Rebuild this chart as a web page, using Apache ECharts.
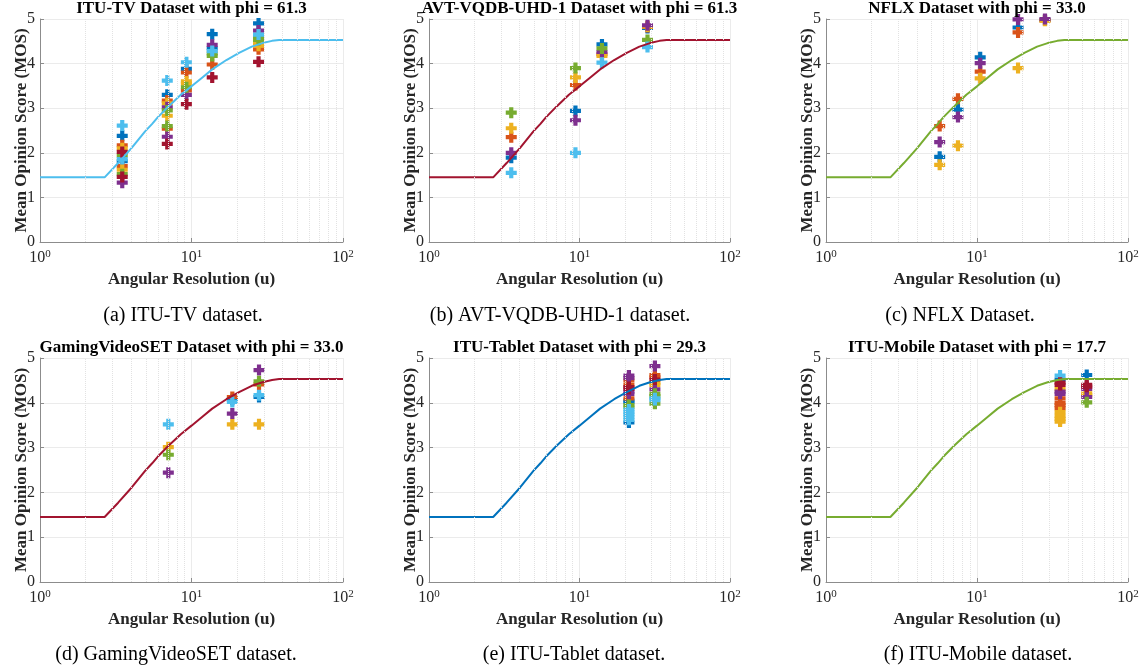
<!DOCTYPE html>
<html>
<head>
<meta charset="utf-8">
<script src="https://cdn.jsdelivr.net/npm/echarts@6/dist/echarts.min.js"></script>
<style>
  html, body { margin: 0; padding: 0; background: #fff; }
  #chart { width: 1143px; height: 672px; }
</style>
</head>
<body>
<div id="chart"></div>
<script>
// fitted MOS curve (same in every panel)
const fitU   = [1, 2.67, 3.28, 4.03, 4.94, 5.5, 6.0, 7.05, 8.5, 10, 11.8, 13.7, 17, 20.6, 25, 29.4, 34, 37.9, 100]
const fitMos = [1.45, 1.45, 1.77, 2.11, 2.48, 2.65, 2.80, 3.04, 3.30, 3.49, 3.69, 3.87, 4.08, 4.24, 4.38, 4.46, 4.51, 4.53, 4.53]

// minor log grid positions
const minorTicks = [2, 3, 4, 5, 6, 7, 8, 9, 20, 30, 40, 50, 60, 70, 80, 90]

// points: [u, MOS, source index]
const ituTv = [
  [3.49, 2.61, 5], [3.49, 2.38, 0], [3.49, 2.17, 1], [3.49, 2.10, 2], [3.49, 2.02, 6], [3.49, 1.94, 4], [3.49, 1.86, 5],
  [3.49, 1.81, 0], [3.49, 1.70, 1], [3.49, 1.62, 2], [3.49, 1.52, 4], [3.49, 1.46, 6], [3.49, 1.33, 3],
  [6.92, 3.62, 5], [6.92, 3.30, 0], [6.92, 3.17, 1], [6.92, 3.11, 2], [6.92, 3.02, 3], [6.92, 2.95, 4], [6.92, 2.83, 2],
  [6.92, 2.60, 4], [6.92, 2.54, 1], [6.92, 2.36, 3], [6.92, 2.20, 6],
  [9.25, 4.03, 5], [9.25, 3.88, 0], [9.25, 3.80, 1], [9.25, 3.60, 2], [9.25, 3.55, 2], [9.25, 3.47, 4], [9.25, 3.40, 1],
  [9.25, 3.30, 3], [9.25, 3.09, 6],
  [13.7, 4.66, 0], [13.7, 4.42, 3], [13.7, 4.34, 0], [13.7, 4.28, 5], [13.7, 4.23, 4], [13.7, 4.17, 4], [13.7, 3.98, 1],
  [13.7, 3.69, 6],
  [27.7, 4.90, 0], [27.7, 4.74, 3], [27.7, 4.65, 5], [27.7, 4.59, 4], [27.7, 4.53, 4], [27.7, 4.47, 2], [27.7, 4.40, 2],
  [27.7, 4.32, 1], [27.7, 4.04, 6]
]
const avtUhd = [
  [3.52, 2.90, 4], [3.52, 2.55, 2], [3.52, 2.35, 1], [3.52, 2.00, 3], [3.52, 1.89, 0], [3.52, 1.55, 5],
  [9.4, 3.90, 4], [9.4, 3.69, 2], [9.4, 3.52, 1], [9.4, 2.94, 0], [9.4, 2.73, 3], [9.4, 2.00, 5],
  [14.1, 4.43, 0], [14.1, 4.34, 4], [14.1, 4.26, 3], [14.1, 4.21, 1], [14.1, 4.17, 2], [14.1, 4.02, 5],
  [28.3, 4.80, 0], [28.3, 4.82, 1], [28.3, 4.83, 2], [28.3, 4.86, 3], [28.3, 4.53, 4], [28.3, 4.37, 5]
]
const nflx = [
  [5.66, 2.60, 1], [5.66, 2.24, 3], [5.66, 1.91, 0], [5.66, 1.73, 2],
  [7.48, 3.21, 1], [7.48, 2.97, 0], [7.48, 2.80, 3], [7.48, 2.16, 2],
  [10.5, 4.14, 0], [10.5, 4.01, 3], [10.5, 3.82, 1], [10.5, 3.67, 2],
  [18.7, 4.99, 3], [18.7, 4.81, 0], [18.7, 4.70, 1], [18.7, 3.90, 2],
  [28.2, 4.98, 0], [28.2, 4.97, 1], [28.2, 4.96, 2], [28.2, 5.00, 3]
]
const gamingVideoSet = [
  [7.03, 3.52, 5], [7.03, 3.01, 2], [7.03, 2.84, 4], [7.03, 2.44, 3],
  [18.6, 4.13, 1], [18.6, 4.07, 0], [18.6, 4.02, 5], [18.6, 3.76, 3], [18.6, 3.52, 2],
  [27.9, 4.73, 3], [27.9, 4.48, 4], [27.9, 4.41, 1], [27.9, 4.17, 5], [27.9, 4.13, 0], [27.9, 3.52, 2]
]
const ituTablet = [
  [21.3, 4.61, 3], [21.3, 4.55, 3], [21.3, 4.50, 1], [21.3, 4.40, 1], [21.3, 4.35, 6], [21.3, 4.31, 6], [21.3, 4.25, 3],
  [21.3, 4.20, 3], [21.3, 4.10, 1], [21.3, 4.05, 0], [21.3, 4.01, 0], [21.3, 3.95, 4], [21.3, 3.90, 4], [21.3, 3.85, 5],
  [21.3, 3.79, 5], [21.3, 3.74, 5], [21.3, 3.68, 5], [21.3, 3.62, 5], [21.3, 3.56, 0],
  [31.7, 4.82, 3], [31.7, 4.62, 1], [31.7, 4.57, 1], [31.7, 4.52, 6], [31.7, 4.45, 2], [31.7, 4.40, 2], [31.7, 4.30, 3],
  [31.7, 4.20, 4], [31.7, 4.15, 4], [31.7, 4.10, 5], [31.7, 4.06, 5], [31.7, 3.98, 4]
]
const ituMobile = [
  [35.5, 4.61, 5], [35.5, 4.52, 0], [35.5, 4.45, 6], [35.5, 4.40, 6], [35.5, 4.31, 2], [35.5, 4.25, 3], [35.5, 4.20, 3],
  [35.5, 4.10, 1], [35.5, 4.00, 1], [35.5, 3.95, 1], [35.5, 3.88, 1], [35.5, 3.79, 2], [35.5, 3.71, 2], [35.5, 3.64, 2],
  [35.5, 3.58, 2],
  [53.3, 4.62, 0], [53.3, 4.40, 6], [53.3, 4.36, 6], [53.3, 4.31, 3], [53.3, 4.21, 2], [53.3, 4.17, 2], [53.3, 4.13, 3],
  [53.3, 4.01, 4]
]

const palette = ['#0072BD', '#D95319', '#EDB120', '#7E2F8E', '#77AC30', '#4DBEEE', '#A2142F']
const serif = '"Liberation Serif", "Times New Roman", serif'
const plus = 'path://M3.1,0H6.9V3.1H10V6.9H6.9V10H3.1V6.9H0V3.1H3.1Z'

const panels = [
  { title: 'ITU-TV Dataset with phi = 61.3', caption: '(a) ITU-TV dataset.', pts: ituTv, fit: 5, box: [40, 19, 303, 223], cap: [183, 316] },
  { title: 'AVT-VQDB-UHD-1 Dataset with phi = 61.3', caption: '(b) AVT-VQDB-UHD-1 dataset.', pts: avtUhd, fit: 6, box: [429, 19, 301, 223], cap: [560, 316] },
  { title: 'NFLX Dataset with phi = 33.0', caption: '(c) NFLX Dataset.', pts: nflx, fit: 4, box: [826, 19, 302, 223], cap: [960, 316] },
  { title: 'GamingVideoSET Dataset with phi = 33.0', caption: '(d) GamingVideoSET dataset.', pts: gamingVideoSet, fit: 6, box: [40, 358, 303, 224], cap: [176, 655] },
  { title: 'ITU-Tablet Dataset with phi = 29.3', caption: '(e) ITU-Tablet dataset.', pts: ituTablet, fit: 0, box: [429, 358, 301, 224], cap: [574, 655] },
  { title: 'ITU-Mobile Dataset with phi = 17.7', caption: '(f) ITU-Mobile dataset.', pts: ituMobile, fit: 4, box: [826, 358, 302, 224], cap: [978, 655] }
]

const axisGray = '#8c8c8c'
const gridGray = '#ebebeb'
const boldText = { fontFamily: serif, fontWeight: 'bold', fontSize: 17, color: '#262626' }

const option = {
  animation: false,
  backgroundColor: '#fff',
  title: [], grid: [], xAxis: [], yAxis: [], series: [], graphic: []
}

panels.forEach((p, i) => {
  const [l, t, w, h] = p.box
  option.grid.push({ left: l, top: t, width: w, height: h })
  option.title.push({
    text: p.title, left: l + w / 2, top: t - 19, textAlign: 'center', padding: 0,
    textStyle: { fontFamily: serif, fontWeight: 'bold', fontSize: 17, color: '#000' }
  })
  option.xAxis.push({
    type: 'log', logBase: 10, min: 1, max: 100, gridIndex: i,
    name: 'Angular Resolution (u)', nameLocation: 'middle', nameGap: 29, nameMoveOverlap: false,
    nameTextStyle: boldText,
    axisLine: { show: true, onZero: false, lineStyle: { color: axisGray } },
    axisTick: { show: true, inside: true, length: 4, lineStyle: { color: axisGray } },
    axisLabel: {
      margin: 7, color: '#262626', fontFamily: serif,
      formatter: v => '{b|10}{s|' + Math.round(Math.log10(v)) + '}',
      rich: {
        b: { fontFamily: serif, fontSize: 16, lineHeight: 18, color: '#262626' },
        s: { fontFamily: serif, fontSize: 11, lineHeight: 10, verticalAlign: 'top', color: '#262626' }
      }
    },
    splitLine: { show: true, lineStyle: { color: gridGray } }
  })
  option.yAxis.push({
    type: 'value', min: 0, max: 5, interval: 1, gridIndex: i,
    name: 'Mean Opinion Score (MOS)', nameLocation: 'middle', nameGap: 10, nameMoveOverlap: false,
    nameTextStyle: boldText,
    axisLine: { show: true, lineStyle: { color: axisGray } },
    axisTick: { show: true, inside: true, length: 4, lineStyle: { color: axisGray } },
    axisLabel: { margin: 5, fontFamily: serif, fontSize: 16, color: '#262626' },
    splitLine: { show: true, lineStyle: { color: gridGray } }
  })

  // minor grid lines of the log axis
  option.series.push({
    type: 'scatter', xAxisIndex: i, yAxisIndex: i, data: [], z: 1, silent: true,
    markLine: {
      silent: true, symbol: 'none', label: { show: false }, animation: false,
      lineStyle: { color: '#e2e2e2', type: 'dotted', width: 1 },
      data: minorTicks.map(v => ({ xAxis: v }))
    }
  })

  for (let s = 0; s < palette.length; s++) {
    const data = p.pts.filter(d => d[2] === s).map(d => [d[0], d[1]])
    if (!data.length) continue
    option.series.push({
      type: 'scatter', xAxisIndex: i, yAxisIndex: i, z: 3,
      symbol: plus, symbolSize: 11,
      itemStyle: { color: palette[s], opacity: 1 },
      data
    })
  }

  option.series.push({
    type: 'line', xAxisIndex: i, yAxisIndex: i, z: 4,
    data: fitU.map((u, k) => [u, fitMos[k]]),
    showSymbol: false, symbol: 'none',
    lineStyle: { color: palette[p.fit], width: 2 }
  })

  option.graphic.push({
    type: 'text', x: p.cap[0], y: p.cap[1],
    style: { text: p.caption, font: '20px ' + serif, fill: '#000', align: 'center', verticalAlign: 'middle' }
  })
})

const myChart = echarts.init(document.getElementById('chart'))
myChart.setOption(option)
</script>
</body>
</html>
